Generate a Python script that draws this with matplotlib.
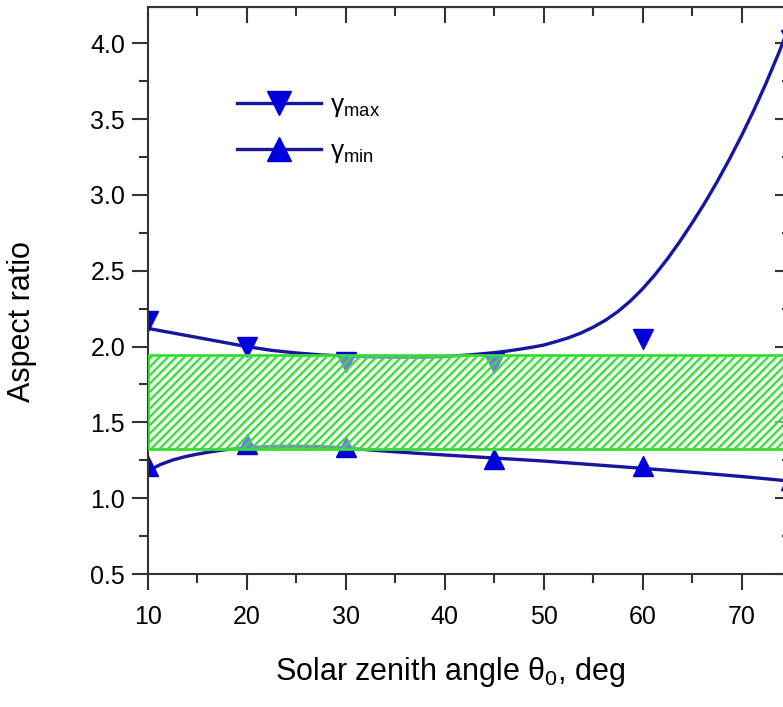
import numpy as np
import matplotlib.pyplot as plt
from matplotlib.ticker import MultipleLocator

plt.rcParams['font.family'] = ['Liberation Sans', 'DejaVu Sans']
plt.rcParams['mathtext.default'] = 'regular'
plt.rcParams['hatch.linewidth'] = 1.6

# measured aspect ratios (markers)
theta = [10, 20, 30, 45, 60, 75]
gamma_max = [2.17, 2.00, 1.90, 1.89, 2.05, 4.02]
gamma_min = [1.215, 1.36, 1.34, 1.26, 1.215, 1.12]

# fitted curves
theta_fit_max = [10, 12.5, 15, 17.5, 20, 22.5, 25, 27.5, 30, 32.5, 35, 37.5, 40,
                 42.5, 45, 46.25, 47.5, 48.75, 50, 51.25, 52.5, 53.75, 55, 56.25,
                 57.5, 58.75, 60, 61.25, 62.5, 63.75, 65, 66.25, 67.5, 68.75, 70,
                 71.25, 72.5, 73.75, 75]
fit_max = [2.12, 2.09, 2.06, 2.03, 2.00, 1.975, 1.958, 1.945, 1.937, 1.932, 1.930,
           1.930, 1.934, 1.945, 1.960, 1.970, 1.982, 1.995, 2.010, 2.033, 2.058,
           2.089, 2.128, 2.174, 2.231, 2.300, 2.381, 2.474, 2.578, 2.692, 2.815,
           2.944, 3.084, 3.233, 3.391, 3.560, 3.741, 3.935, 4.141]

theta_fit_min = [10, 11.25, 12.5, 13.75, 15, 16.25, 17.5, 18.75, 20, 22.5, 25, 27.5,
                 30, 32.5, 35, 37.5, 40, 42.5, 45, 47.5, 50, 52.5, 55, 57.5, 60,
                 62.5, 65, 67.5, 70, 72.5, 75]
fit_min = [1.18, 1.222, 1.252, 1.274, 1.291, 1.305, 1.317, 1.327, 1.334, 1.341,
           1.343, 1.340, 1.332, 1.318, 1.306, 1.295, 1.285, 1.275, 1.265, 1.255,
           1.245, 1.233, 1.221, 1.209, 1.197, 1.184, 1.171, 1.157, 1.143, 1.128,
           1.112]

# shaded band
band_x = [10, 75]
band_lo = 1.325
band_hi = 1.945

line_col = '#1616a0'
mark_col = '#0000dd'

fig = plt.figure(figsize=(7.83, 7.07), dpi=100)
ax = fig.add_axes([148/783, 133/707, 643/783, 567/707])

ax.plot(theta_fit_max, fit_max, color=line_col, lw=2.4, zorder=2)
ax.plot(theta_fit_min, fit_min, color=line_col, lw=2.4, zorder=2)
ax.plot(theta, gamma_max, 'v', color=mark_col, ms=14, zorder=2.5)
ax.plot(theta, gamma_min, '^', color=mark_col, ms=14, zorder=2.5)

ax.fill_between(band_x, band_lo, band_hi, facecolor=(0.88, 1.0, 0.88, 0.5),
                edgecolor='#38dc38', hatch='////', linewidth=2.0, zorder=3)

# legend handles
h1, = ax.plot([], [], '-v', color=line_col, mfc=mark_col, mec=mark_col, ms=14, lw=2.4)
h2, = ax.plot([], [], '-^', color=line_col, mfc=mark_col, mec=mark_col, ms=14, lw=2.4)
ax.legend([h1, h2], ['γ$_{max}$', 'γ$_{min}$'], loc='upper left',
          bbox_to_anchor=(0.138, 0.848), frameon=False, fontsize=19,
          handlelength=3.2, handletextpad=0.35, labelspacing=0.75,
          borderpad=0, borderaxespad=0, markerscale=1.25)

ax.set_xlim(10, 75)
ax.set_ylim(0.5, 4.24)
ax.xaxis.set_major_locator(MultipleLocator(10))
ax.xaxis.set_minor_locator(MultipleLocator(5))
ax.yaxis.set_major_locator(MultipleLocator(0.5))
ax.yaxis.set_minor_locator(MultipleLocator(0.25))
ax.yaxis.set_major_formatter(plt.FormatStrFormatter('%.1f'))

for s in ax.spines.values():
    s.set_linewidth(1.5)
    s.set_color('#333333')

ax.tick_params(which='both', width=1.5, color='#333333', labelsize=18)
ax.tick_params(which='major', length=11.5)
ax.tick_params(which='minor', length=6.5)
ax.tick_params(axis='x', which='both', direction='out', top=False, pad=11)
ax.tick_params(axis='y', which='both', direction='out', right=False, pad=5)

# mirror ticks pointing inward on top and right
axt = ax.secondary_xaxis('top')
axt.xaxis.set_major_locator(MultipleLocator(10))
axt.xaxis.set_minor_locator(MultipleLocator(5))
axt.tick_params(which='both', direction='in', width=1.5, color='#333333', labeltop=False)
axt.tick_params(which='major', length=11.5)
axt.tick_params(which='minor', length=6.5)
axr = ax.secondary_yaxis('right')
axr.yaxis.set_major_locator(MultipleLocator(0.5))
axr.yaxis.set_minor_locator(MultipleLocator(0.25))
axr.tick_params(which='both', direction='in', width=1.5, color='#333333', labelright=False)
axr.tick_params(which='major', length=11.5)
axr.tick_params(which='minor', length=6.5)

ax.set_xlabel('Solar zenith angle θ$_0$, deg', fontsize=22)
ax.set_ylabel('Aspect ratio', fontsize=22)
ax.xaxis.set_label_coords(0.47, -0.143)
ax.yaxis.set_label_coords(-0.172, 0.446)

fig.savefig('out.png', dpi=100)
